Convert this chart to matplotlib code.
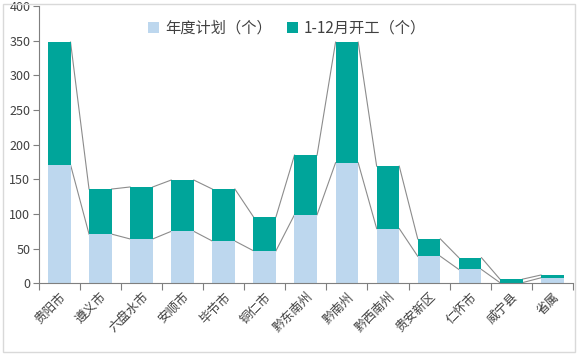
import numpy as np
import matplotlib.pyplot as plt
from matplotlib.patches import Rectangle

plt.rcParams['font.family'] = ['Noto Sans CJK SC', 'DejaVu Sans']

# Data
# ---------------------------------------
regions = ['贵阳市', '遵义市', '六盘水市', '安顺市', '毕节市', '铜仁市', '黔东南州',
           '黔南州', '黔西南州', '贵安新区', '仁怀市', '威宁县', '省属']
plan = [171, 71, 64, 75, 61, 47, 99, 174, 79, 39, 20, 1, 8]
started = [177, 65, 75, 74, 75, 49, 86, 174, 90, 25, 17, 5, 4]

plan_color = '#BDD7EE'
start_color = '#00A59A'
text_color = '#404040'

x = np.arange(len(regions))
w = 0.55
total = np.array(plan) + np.array(started)

fig = plt.figure(figsize=(5.81, 3.57), dpi=100)
ax = fig.add_axes([0.0666, 0.2064, 0.9194, 0.7766])

ax.bar(x, plan, w, color=plan_color, label='年度计划（个）', zorder=2)
ax.bar(x, started, w, bottom=plan, color=start_color, label='1-12月开工（个）', zorder=2)

# series lines between neighbouring bars
for lvl in (np.array(plan), total):
    for i in range(len(x) - 1):
        ax.plot([x[i] + w / 2, x[i + 1] - w / 2], [lvl[i], lvl[i + 1]],
                color='#8c8c8c', lw=0.8, zorder=1)

ax.set_xlim(-0.5, len(x) - 0.5)
ax.set_ylim(0, 400)
ax.set_yticks(range(0, 401, 50))
ax.set_xticks(np.arange(len(x) + 1) - 0.5)
ax.set_xticklabels([])
ax.set_xticks(x, minor=True)
ax.set_xticklabels(regions, minor=True, rotation=45, ha='right', va='top',
                   rotation_mode='anchor', fontsize=9, color=text_color)
ax.tick_params(axis='x', which='minor', length=0, pad=5)
ax.tick_params(axis='x', which='major', length=5, color='#7f7f7f')
ax.tick_params(axis='y', length=4, color='#7f7f7f', labelsize=9, labelcolor=text_color, pad=2)

for s in ('top', 'right'):
    ax.spines[s].set_visible(False)
for s in ('left', 'bottom'):
    ax.spines[s].set_color('#7f7f7f')

leg = ax.legend(loc='upper center', bbox_to_anchor=(0.465, 1.0), ncol=2, frameon=False,
                fontsize=11, handlelength=0.7, handleheight=0.7, handletextpad=0.4,
                columnspacing=1.0)
for t in leg.get_texts():
    t.set_color(text_color)

# chart border
fig.patches.append(Rectangle((3 / 581, 5 / 357), 572 / 581, 348 / 357,
                             transform=fig.transFigure, fill=False,
                             edgecolor='#d9d9d9', lw=1))

plt.savefig('out.png', dpi=100)
